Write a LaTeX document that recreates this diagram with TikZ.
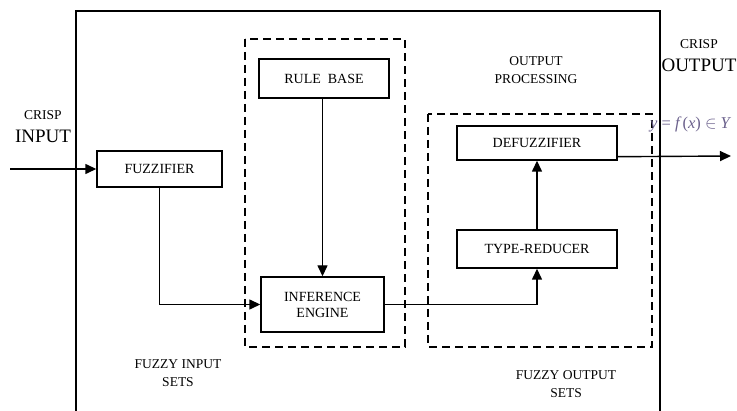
\documentclass[tikz,border=0pt]{standalone}
\usepackage{fontspec}
\setmainfont{Liberation Serif}
\usetikzlibrary{arrows.meta}
\definecolor{mathink}{rgb}{0.42,0.38,0.55}
\tikzset{
  blk/.style={draw, line width=1.4pt, rectangle, inner sep=0pt, align=center,
    font=\fontsize{14}{16}\selectfont},
  grp/.style={draw, line width=1.3pt, dash pattern=on 8pt off 5pt},
  lbl/.style={align=center, inner sep=0pt, font=\fontsize{13.5}{17.5}\selectfont},
  big/.style={inner sep=0pt, font=\fontsize{19}{20}\selectfont},
  flow/.style={line width=1.4pt, -{Triangle[length=11pt,width=10pt]}},
}
\begin{document}
\begin{tikzpicture}[x=1pt,y=-1pt]
\useasboundingbox (0,0) rectangle (737,411);

% system frame (open at the bottom)
\draw[line width=1.3pt] (76,411) -- (76,11) -- (660,11) -- (660,411);

% dashed groups
\draw[grp] (245,39) rectangle (405,347);
\draw[grp] (428,114) rectangle (652,347);

% blocks
\node[blk, minimum width=125pt, minimum height=36pt] (fz) at (159.5,169) {FUZZIFIER};
\node[blk, minimum width=130pt, minimum height=39pt] (rb) at (324,78.5) {RULE\ \ BASE};
\node[blk, minimum width=123pt, minimum height=55pt] (ie) at (322.5,304.5) {INFERENCE\\ENGINE};
\node[blk, minimum width=160pt, minimum height=34pt] (df) at (537,143) {DEFUZZIFIER};
\node[blk, minimum width=160pt, minimum height=38pt] (tr) at (537,249) {TYPE-REDUCER};

% labels
\node[lbl] (ci) at (43,115) {CRISP};
\node[big] (ip) at (43,136) {INPUT};
\node[lbl] (co) at (699,44) {CRISP};
\node[big] (op) at (699,65) {OUTPUT};
\node[lbl] (opr) at (536,70) {OUTPUT\\PROCESSING};
\node[lbl] (fis) at (178,373) {FUZZY INPUT\\SETS};
\node[lbl] (fos) at (566,384) {FUZZY OUTPUT\\SETS};
\node[anchor=west, inner sep=0pt, text=mathink, font=\fontsize{16.5}{18}\selectfont] (fx) at (650,124)
  {\textit{y} = \textit{f}\kern1pt(\textit{x}) $\in$ \textit{Y}};

% connectors
\coordinate (in) at (10,169);
\coordinate (out) at (731,156);
\draw[flow] (in) -- (fz.west);
\draw[flow] (ie.north |- rb.south) -- (ie.north);
\draw[flow] (fz.south) |- (ie.west);
\draw[flow] (ie.east) -| (tr.south);
\draw[flow] (tr.north) -- (df.south);
\draw[flow] ([yshift=4pt]df.south east) -- (out);
\end{tikzpicture}
\end{document}
